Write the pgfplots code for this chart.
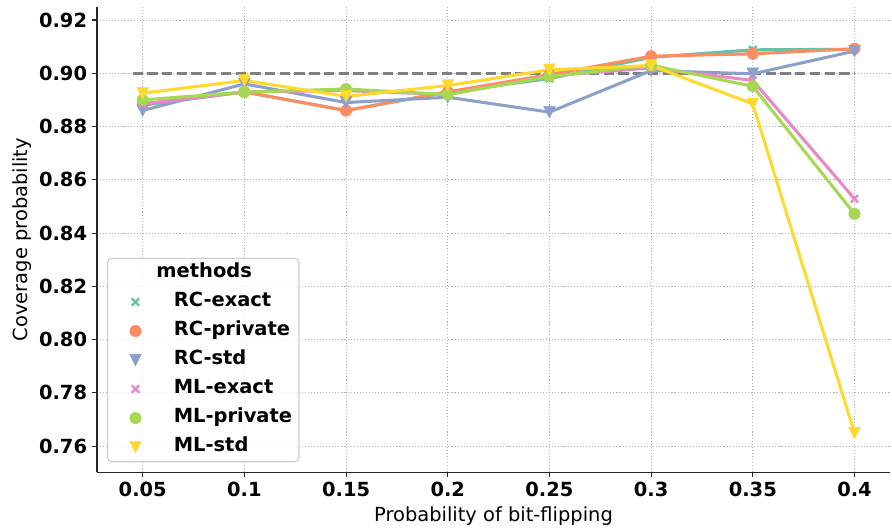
\documentclass[border=0pt]{standalone}
\usepackage{fontspec}
\setmainfont{DejaVu Sans}
\usepackage{pgfplots}
\pgfplotsset{compat=1.18}

% Set2 palette
\definecolor{cTeal}{HTML}{66C2A5}
\definecolor{cOrange}{HTML}{FC8D62}
\definecolor{cBlue}{HTML}{8DA0CB}
\definecolor{cPink}{HTML}{E78AC3}
\definecolor{cGreen}{HTML}{A6D854}
\definecolor{cYellow}{HTML}{FFD92F}
\definecolor{refGray}{HTML}{808080}

% downward triangle as wide as it is tall
\pgfdeclareplotmark{vtri}{%
  \pgfpathmoveto{\pgfqpoint{0pt}{-\pgfplotmarksize}}%
  \pgfpathlineto{\pgfqpoint{-\pgfplotmarksize}{\pgfplotmarksize}}%
  \pgfpathlineto{\pgfqpoint{\pgfplotmarksize}{\pgfplotmarksize}}%
  \pgfpathclose
  \pgfusepathqfillstroke}

\pgfplotsset{
  series/.style={line width=2.2pt, line join=round},
  xmark/.style={mark=x, mark size=3.8pt, mark options={solid, line width=1.7pt}},
  cmark/.style={mark=*, mark size=4.1pt, mark options={solid, line width=0.4pt}},
  tmark/.style={mark=vtri, mark size=4.2pt, mark options={solid, line width=0.4pt}},
}

\begin{document}
\begin{tikzpicture}
\begin{axis}[
  name=main,
  scale only axis,
  width=571pt, height=335pt,
  xmin=-0.45, xmax=7.35,
  ymin=0.7502, ymax=0.9249,
  axis lines=left,
  axis line style={-, black!85, line width=0.9pt},
  xtick={0,1,2,3,4,5,6,7},
  xticklabels={0.05,0.1,0.15,0.2,0.25,0.3,0.35,0.4},
  ytick={0.76,0.78,0.80,0.82,0.84,0.86,0.88,0.90,0.92},
  yticklabels={0.76,0.78,0.80,0.82,0.84,0.86,0.88,0.90,0.92},
  tick label style={font=\bfseries\fontsize{14}{17}\selectfont},
  tick align=outside,
  major tick length=3.6pt,
  tick style={black!85, line width=0.8pt},
  grid=major,
  grid style={black!30, line width=0.6pt, dash pattern=on 0.8pt off 1.4pt},
  xlabel={Probability of bit-flipping},
  ylabel={Coverage probability},
  every axis x label/.style={at={(axis description cs:0.5,0)}, anchor=base,
    yshift=-35.6pt, font=\fontsize{14}{17}\selectfont},
  every axis y label/.style={at={(axis description cs:-0.0939,0.5)}, rotate=90,
    anchor=center, font=\fontsize{14}{17}\selectfont},
  legend cell align=left,
  legend image code/.code={%
    \path (0pt,0pt) (30pt,0pt);
    \draw[#1, only marks, fill opacity=1, draw opacity=1] plot coordinates {(15pt,0pt)};},
  legend style={
    at={(0.0127,0.0215)}, anchor=south west,
    draw=black!20, line width=0.8pt, rounded corners=3pt,
    fill=white, fill opacity=0.8, text opacity=1,
    inner xsep=4pt, inner ysep=3pt,
    row sep=5.9pt, column sep=10.5pt,
    font=\bfseries\fontsize{14}{17}\selectfont,
    nodes={inner sep=1pt, text height=10pt, text depth=3pt},
  },
]
\addlegendimage{empty legend}
\addlegendentry{\hspace*{-12.5pt}methods}

% nominal level
\addplot[refGray, line width=2pt, dash pattern=on 7.4pt off 3.2pt, forget plot]
  coordinates {(-0.1,0.9) (7,0.9)};

\addplot[cTeal, series, xmark] coordinates {
  (0,0.8880) (1,0.8930) (2,0.8860) (3,0.8930) (4,0.8980) (5,0.9060) (6,0.9088) (7,0.9090)};
\addlegendentry{RC-exact}

\addplot[cOrange, series, cmark] coordinates {
  (0,0.8885) (1,0.8930) (2,0.8860) (3,0.8930) (4,0.8995) (5,0.9064) (6,0.9073) (7,0.9092)};
\addlegendentry{RC-private}

\addplot[cBlue, series, tmark] coordinates {
  (0,0.8860) (1,0.8960) (2,0.8890) (3,0.8910) (4,0.8854) (5,0.9010) (6,0.8998) (7,0.9083)};
\addlegendentry{RC-std}

\addplot[cPink, series, xmark] coordinates {
  (0,0.8885) (1,0.8930) (2,0.8935) (3,0.8920) (4,0.8990) (5,0.9020) (6,0.8973) (7,0.8529)};
\addlegendentry{ML-exact}

\addplot[cGreen, series, cmark] coordinates {
  (0,0.8900) (1,0.8929) (2,0.8941) (3,0.8920) (4,0.8988) (5,0.9030) (6,0.8951) (7,0.8472)};
\addlegendentry{ML-private}

\addplot[cYellow, series, tmark] coordinates {
  (0,0.8925) (1,0.8973) (2,0.8913) (3,0.8954) (4,0.9013) (5,0.9029) (6,0.8885) (7,0.7649)};
\addlegendentry{ML-std}
\end{axis}
% page extent around the plot area
\pgfresetboundingbox
\path (main.south west) +(-69.8pt,-42.5pt) (main.north east) +(1.4pt,5pt);
\end{tikzpicture}
\end{document}
